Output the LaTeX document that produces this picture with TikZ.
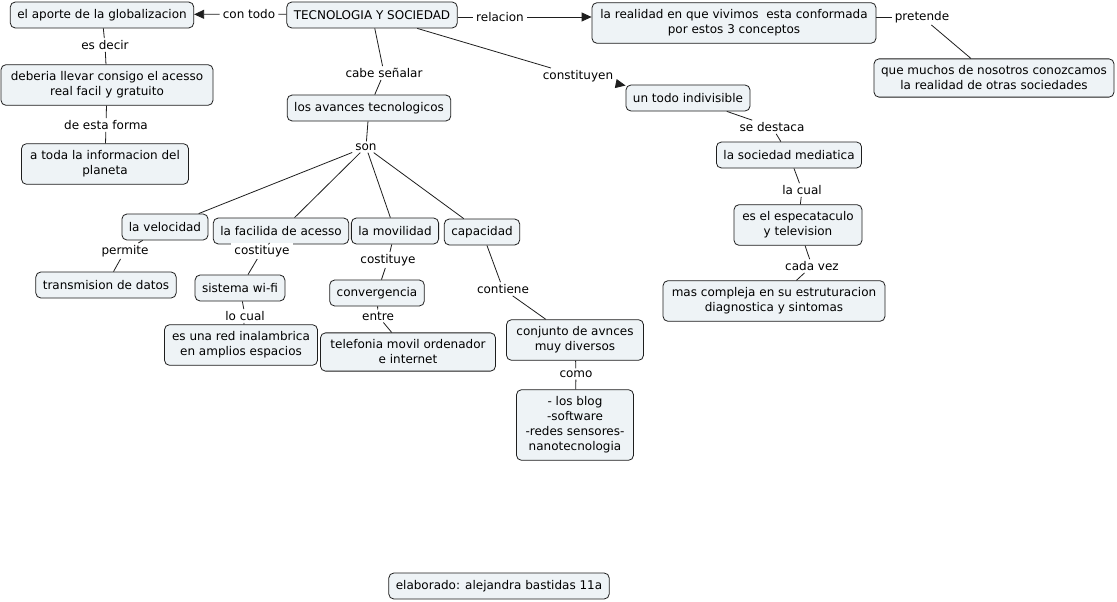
\documentclass[tikz,border=0pt]{standalone}
\usepackage{fontspec}
\setmainfont{DejaVu Sans}
\usetikzlibrary{arrows.meta}
\definecolor{cfill}{RGB}{238,243,246}
\definecolor{cline}{RGB}{30,30,30}
\begin{document}
\begin{tikzpicture}[x=1pt,y=-1pt,
 concept/.style={draw=cline, fill=cfill, rounded corners=5pt, align=center, inner xsep=7pt, inner ysep=7pt, minimum height=26pt, font=\fontsize{12}{15}\selectfont, line width=0.8pt},
 lbl/.style={inner xsep=3pt, inner ysep=2pt, font=\fontsize{12}{15}\selectfont, fill=white},
 conn/.style={draw=cline, line width=0.8pt},
 arr/.style={conn, -{Triangle[length=10pt,width=9pt]}}]
\useasboundingbox[fill=white] (0,0) rectangle (1117,602);

% concepts
\node[concept] (aporte) at (102,15) {el aporte de la globalizacion};
\node[concept] (ts) at (372,15) {TECNOLOGIA Y SOCIEDAD};
\node[concept, minimum width=284pt] (realidad) at (734,23) {la realidad en que vivimos~ esta conformada\\por estos 3 conceptos};
\node[concept, minimum width=240pt] (muchos) at (994,78) {que muchos de nosotros conozcamos\\la realidad de otras sociedades};
\node[concept, minimum width=212pt] (deberia) at (107,85) {deberia llevar consigo el acesso\\real facil y gratuito};
\node[concept, minimum width=167pt] (atoda) at (105,164) {a toda la informacion del\\planeta};
\node[concept] (avances) at (369,108) {los avances tecnologicos};
\node[concept] (untodo) at (688,98) {un todo indivisible};
\node[concept] (mediatica) at (789,155) {la sociedad mediatica};
\node[concept, minimum width=128pt] (espectaculo) at (798,225) {es el especataculo\\y television};
\node[concept, minimum width=222pt] (compleja) at (774,301) {mas compleja en su estruturacion\\diagnostica y sintomas};
\node[concept] (velocidad) at (165,227) {la velocidad};
\node[concept] (facilidad) at (281,231) {la facilida de acesso};
\node[concept] (movilidad) at (395,231) {la movilidad};
\node[concept] (capacidad) at (482,232) {capacidad};
\node[concept] (transmision) at (106,285) {transmision de datos};
\node[concept] (wifi) at (240,288) {sistema wi-fi};
\node[concept] (convergencia) at (377,293) {convergencia};
\node[concept, minimum width=153pt] (red) at (241,345) {es una red inalambrica\\en amplios espacios};
\node[concept, minimum width=175pt] (telefonia) at (408,352) {telefonia movil ordenador\\e internet};
\node[concept, minimum width=137pt] (conjunto) at (575,340) {conjunto de avnces\\muy diversos};
\node[concept, minimum width=117pt] (blog) at (575,425) {- los blog\\-software\\-redes sensores-\\nanotecnologia};
\node[concept] (elaborado) at (499,586) {elaborado: alejandra bastidas 11a};

% linking phrases
\node[lbl] (contodo) at (249,14) {con todo};
\node[lbl] (relacion) at (500,17) {relacion};
\node[lbl] (pretende) at (922,17) {pretende};
\node[lbl] (esdecir) at (105,45) {es decir};
\node[lbl] (estaforma) at (106,125) {de esta forma};
\node[lbl] (cabe) at (384,73) {cabe señalar};
\node[lbl] (constituyen) at (578,76) {constituyen};
\node[lbl] (son) at (366,147) {son};
\node[lbl] (destaca) at (772,127) {se destaca};
\node[lbl] (lacual) at (802,190) {la cual};
\node[lbl] (cadavez) at (812,266) {cada vez};
\node[lbl] (permite) at (125,251) {permite};
\node[lbl] (costA) at (262,251) {costituye};
\node[lbl] (costB) at (388,260) {costituye};
\node[lbl] (locual) at (245,316) {lo cual};
\node[lbl] (entre) at (378,316) {entre};
\node[lbl] (contiene) at (503,289) {contiene};
\node[lbl] (como) at (576,374) {como};

% connectors
\draw[conn] (ts) -- (contodo);
\draw[arr] (contodo) -- (aporte);
\draw[conn] (ts.east |- relacion) -- (relacion);
\draw[arr] (relacion) -- (realidad.west |- relacion);
\draw[conn] (realidad.east |- pretende) -- (pretende);
\draw[conn] (pretende) -- (muchos);
\draw[conn] (ts) -- (constituyen);
\draw[arr] (constituyen) -- (untodo);
\draw[conn] (ts) -- (cabe);
\draw[conn] (cabe) -- (avances);
\draw[conn] (aporte) -- (esdecir);
\draw[conn] (esdecir) -- (deberia);
\draw[conn] (deberia) -- (estaforma);
\draw[conn] (estaforma) -- (atoda);
\draw[conn] (avances) -- (son);
\draw[conn] (son) -- (velocidad);
\draw[conn] (son) -- (facilidad);
\draw[conn] (son) -- (movilidad);
\draw[conn] (son) -- (capacidad);
\draw[conn] (velocidad) -- (permite);
\draw[conn] (permite) -- (transmision);
\draw[conn] (facilidad) -- (costA);
\draw[conn] (costA) -- (wifi);
\draw[conn] (movilidad) -- (costB);
\draw[conn] (costB) -- (convergencia);
\draw[conn] (wifi) -- (locual);
\draw[conn] (locual) -- (red);
\draw[conn] (convergencia) -- (entre);
\draw[conn] (entre) -- (telefonia);
\draw[conn] (capacidad) -- (contiene);
\draw[conn] (contiene) -- (conjunto);
\draw[conn] (conjunto) -- (como);
\draw[conn] (como) -- (blog);
\draw[conn] (untodo) -- (destaca);
\draw[conn] (destaca) -- (mediatica);
\draw[conn] (mediatica) -- (lacual);
\draw[conn] (lacual) -- (espectaculo);
\draw[conn] (espectaculo) -- (cadavez);
\draw[conn] (cadavez) -- (compleja);
\end{tikzpicture}
\end{document}
